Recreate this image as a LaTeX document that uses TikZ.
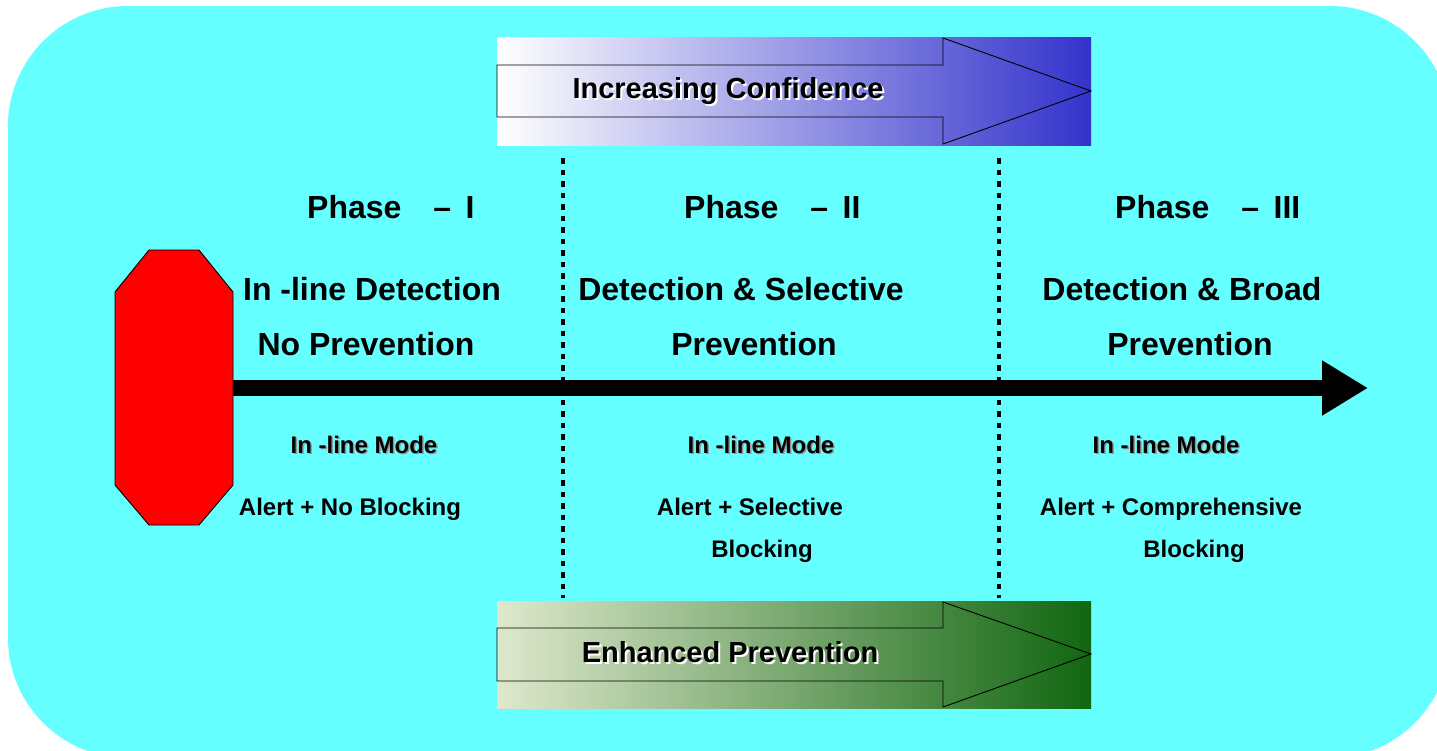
\documentclass[tikz,border=0pt]{standalone}
\usepackage{fontspec}
\setmainfont{Liberation Sans}
\usetikzlibrary{arrows.meta}

\definecolor{panel}{RGB}{102,255,255}
\definecolor{confmid}{RGB}{176,176,228}
\definecolor{confdark}{RGB}{51,51,204}
\definecolor{prevlight}{RGB}{222,232,204}
\definecolor{prevmid}{RGB}{160,190,112}
\definecolor{prevdark}{RGB}{17,102,17}
\definecolor{stopred}{RGB}{255,0,0}
\definecolor{shadowgray}{RGB}{150,150,150}

% text with a drop shadow: colour, offset, text
\newcommand\shadowed[3]{%
  \makebox[0pt][l]{\hspace*{#2}\raisebox{-#2}{\textcolor{#1}{#3}}}#3}

\begin{document}
\begin{tikzpicture}[x=1pt,y=-1pt,
  big/.style={font=\fontsize{32}{38}\selectfont\bfseries, inner sep=0pt, anchor=base},
  small/.style={font=\fontsize{24}{29}\selectfont\bfseries, inner sep=0pt, anchor=base},
  banner/.style={font=\fontsize{29}{35}\selectfont\bfseries, inner sep=0pt, anchor=base},
  divider/.style={line width=4.5pt, dash pattern=on 5.5pt off 6pt},
  outline/.style={draw=black, line width=0.9pt, line join=miter}]

\useasboundingbox (0,0) rectangle (1437,750);
\clip (0,0) rectangle (1437,750);

% background panel
\fill[panel, rounded corners=120pt] (8,6) rectangle (1450,758);

% phase dividers
\draw[divider] (563,158) -- (563,598);
\draw[divider] (999,158) -- (999,598);

% time line
\coordinate (lineStart) at (233,388);
\coordinate (lineEnd) at (1368,388);
\draw[line width=16pt, -{Triangle[length=46pt,width=52pt]}] (lineStart) -- (lineEnd);

% stop sign
\filldraw[fill=stopred, outline]
  (149,250) -- (199,250) -- (233,292) -- (233,485) -- (199,525)
  -- (149,525) -- (115,485) -- (115,292) -- cycle;

% confidence banner
\shade[left color=white, middle color=confmid, right color=confdark]
  (497,37) rectangle (1091,145);
\draw[outline] (497,65) -- (943,65) -- (943,38) -- (1091,91)
  -- (943,144) -- (943,117) -- (497,117) -- cycle;
\node[banner] (conf) at (728,98) {\shadowed{white}{2pt}{Increasing Confidence}};

% prevention banner
\shade[left color=prevlight, middle color=prevmid, right color=prevdark]
  (497,601) rectangle (1091,708);
\draw[outline] (497,628) -- (943,628) -- (943,602) -- (1091,654)
  -- (943,707) -- (943,681) -- (497,681) -- cycle;
\node[banner] (prev) at (730,662) {\shadowed{white}{2pt}{Enhanced Prevention}};

% phase headings
\node[big, anchor=base west] (ph1) at (307,218) {Phase\hspace{1em}–\hspace{0.45em}I};
\node[big, anchor=base west] (ph2) at (684,218) {Phase\hspace{1em}–\hspace{0.45em}II};
\node[big, anchor=base west] (ph3) at (1115,218) {Phase\hspace{1em}–\hspace{0.45em}III};

% phase I
\node[big] (d1a) at (372,300) {In -line Detection};
\node[big] (d1b) at (366,355) {No Prevention};
\node[small] (m1) at (364,453) {\shadowed{shadowgray}{1.5pt}{In -line Mode}};
\node[small] (a1) at (350,515) {Alert + No Blocking};

% phase II
\node[big] (d2a) at (741,300) {Detection \& Selective};
\node[big] (d2b) at (754,355) {Prevention};
\node[small] (m2) at (761,453) {\shadowed{shadowgray}{1.5pt}{In -line Mode}};
\node[small] (a2) at (750,515) {Alert + Selective};
\node[small] (b2) at (762,557) {Blocking};

% phase III
\node[big] (d3a) at (1182,300) {Detection \& Broad};
\node[big] (d3b) at (1190,355) {Prevention};
\node[small] (m3) at (1166,453) {\shadowed{shadowgray}{1.5pt}{In -line Mode}};
\node[small] (a3) at (1171,515) {Alert + Comprehensive};
\node[small] (b3) at (1194,557) {Blocking};

\end{tikzpicture}
\end{document}
